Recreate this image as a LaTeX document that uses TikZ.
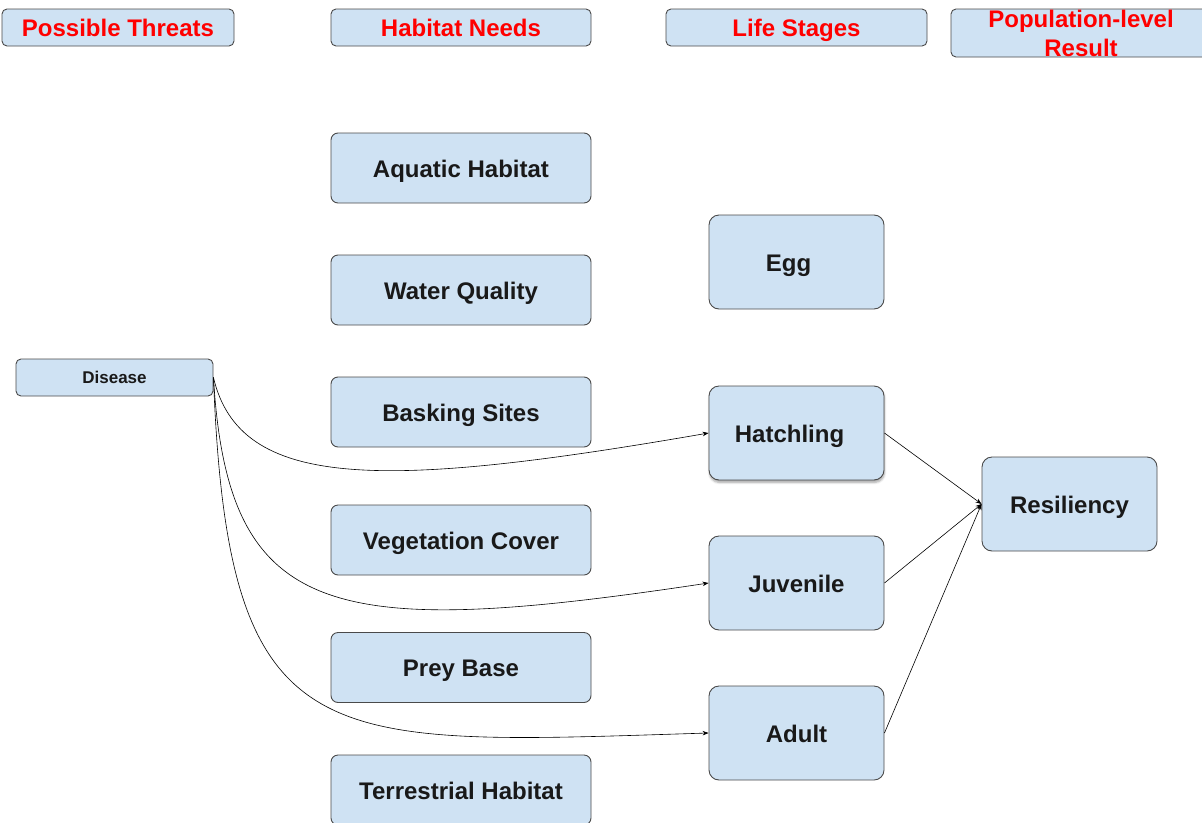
\documentclass[tikz,border=0pt]{standalone}
\usepackage{fontspec}
\setmainfont{Liberation Sans}
\usetikzlibrary{arrows.meta,shadows.blur}
\definecolor{boxblue}{HTML}{CFE2F3}
\definecolor{boxline}{HTML}{4A4A4A}
\definecolor{headred}{HTML}{FF0000}
\begin{document}
\begin{tikzpicture}[x=1pt,y=-1pt,
  box/.style={draw=boxline, fill=boxblue, line width=0.9pt, rounded corners=7pt,
    inner sep=0pt, text height=18pt, text depth=0pt,
    font=\fontsize{24}{29}\selectfont\bfseries, text=black!90},
  head/.style={box, rounded corners=5pt, text=headred, minimum height=37pt},
  need/.style={box, minimum width=260pt, minimum height=70pt},
  stage/.style={box, rounded corners=10pt, minimum width=175pt, minimum height=94pt},
  link/.style={-{Stealth[length=6pt,width=4.5pt]}, line width=0.6pt, black}
]
\useasboundingbox (0,0) rectangle (1202,822);

% column headings
\node[head, minimum width=232pt] (threats) at (118,27.5) {Possible Threats};
\node[head, minimum width=260pt] (needs) at (461,27.5) {Habitat Needs};
\node[head, minimum width=261pt] (stages) at (796.5,27.5) {Life Stages};
\node[head, minimum width=260pt, minimum height=48pt, align=center,
  text height={}, text depth={}] (result) at (1081,33) {Population-level\\Result};

% habitat needs
\node[need] (aquatic) at (461,168) {Aquatic Habitat};
\node[need] (water) at (461,290) {Water Quality};
\node[need] (basking) at (461,412) {Basking Sites};
\node[need] (vegetation) at (461,540) {Vegetation Cover};
\node[need] (prey) at (461,667.5) {Prey Base};
\node[need] (terrestrial) at (461,790) {Terrestrial Habitat};

% life stages
\node[stage] (egg) at (796.5,262) {Egg\hspace*{16pt}};
\node[stage, blur shadow={shadow xshift=0.5pt, shadow yshift=-2.5pt,
  shadow blur steps=6, shadow blur extra rounding=2pt, shadow opacity=35}] (hatch) at (796.5,433) {Hatchling\hspace*{14pt}};
\node[stage] (juvenile) at (796.5,583) {Juvenile};
\node[stage] (adult) at (796.5,733) {Adult};

% population-level result
\node[stage] (resiliency) at (1069.5,504) {Resiliency};

% threat
\node[box, rounded corners=5pt, minimum width=197pt, minimum height=37pt,
  text height=12.5pt, font=\fontsize{17}{20}\selectfont\bfseries] (disease) at (114.5,377.5) {Disease};

% threat pathways
\draw[link] (disease.east) .. controls (240,490) and (380,490) .. (hatch.west);
\draw[link] (disease.east) .. controls (228,620) and (330,640) .. (juvenile.west);
\draw[link] (disease.east) .. controls (228,760) and (320,745) .. (adult.west);

% life stages to resiliency
\draw[link] (hatch.east) -- (resiliency.west);
\draw[link] (juvenile.east) -- (resiliency.west);
\draw[link] (adult.east) -- (resiliency.west);
\end{tikzpicture}
\end{document}
